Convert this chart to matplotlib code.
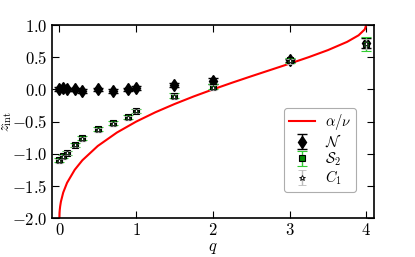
import matplotlib
matplotlib.use("Agg")
import matplotlib.pyplot as plt
from matplotlib.ticker import FixedLocator, FixedFormatter

plt.rcParams['mathtext.fontset'] = 'cm'
plt.rcParams['font.family'] = ['DejaVu Serif']

# alpha/nu curve values
curve_q = [0, 0.002, 0.005, 0.01, 0.02, 0.05, 0.1, 0.2, 0.3, 0.5, 0.75, 1.0, 1.25,
           1.5, 1.75, 2.0, 2.25, 2.5, 2.75, 3.0, 3.25, 3.5, 3.75, 3.9, 3.98, 4.0]
curve_v = [-2.0, -1.916, -1.868, -1.815, -1.741, -1.600, -1.449, -1.247, -1.099,
           -0.878, -0.669, -0.5, -0.355, -0.227, -0.109, 0.0, 0.104, 0.204, 0.302,
           0.4, 0.501, 0.610, 0.738, 0.840, 0.931, 1.0]

# N (black diamonds)
n_q = [0, 0.05, 0.1, 0.2, 0.3, 0.5, 0.7, 0.9, 1.0, 1.5, 2.0, 3.0, 4.0]
n_v = [0.01, 0.02, 0.0, 0.0, -0.02, 0.0, -0.02, 0.0, 0.02, 0.07, 0.13, 0.45, 0.72]
n_e = [0.03, 0.03, 0.03, 0.03, 0.03, 0.03, 0.03, 0.03, 0.03, 0.03, 0.05, 0.03, 0.08]

# S2 (green squares)
s_q = [0, 0.05, 0.1, 0.2, 0.3, 0.5, 0.7, 0.9, 1.0, 1.5, 2.0, 3.0, 4.0]
s_v = [-1.10, -1.04, -0.98, -0.86, -0.76, -0.62, -0.52, -0.43, -0.33, -0.10, 0.04, 0.45, 0.71]
s_e = [0.03, 0.03, 0.03, 0.03, 0.03, 0.03, 0.03, 0.03, 0.03, 0.04, 0.04, 0.04, 0.11]

# C1 (stars)
c_q = [0, 0.05, 0.1, 0.2, 0.3, 0.5, 0.7, 0.9, 1.0, 1.5, 2.0, 3.0, 4.0]
c_v = [-1.11, -1.05, -0.99, -0.87, -0.77, -0.63, -0.53, -0.44, -0.34, -0.11, 0.03, 0.44, 0.70]
c_e = [0.03, 0.03, 0.03, 0.03, 0.03, 0.03, 0.03, 0.03, 0.03, 0.04, 0.04, 0.04, 0.08]

xticks = [0, 1, 2, 3, 4]
xticklabels = ['0', '1', '2', '3', '4']
yticks = [-2.0, -1.5, -1.0, -0.5, 0.0, 0.5, 1.0]
yticklabels = ['-2.0', '-1.5', '-1.0', '-0.5', '0.0', '0.5', '1.0']

fig = plt.figure(figsize=(4.15, 2.57), dpi=100)
ax = fig.add_axes([0.1246, 0.1506, 0.7764, 0.7521])

ax.plot(curve_q, curve_v, color='red', lw=1.5, label=r'$\alpha/\nu$', zorder=2)
ax.errorbar(n_q, n_v, yerr=n_e, fmt='d', color='black', mec='black', ms=6.5,
            ecolor='black', capsize=3.5, elinewidth=1, label=r'$\mathcal{N}$', zorder=3)
ax.errorbar(s_q, s_v, yerr=s_e, fmt='s', color='#008800', mec='black', mew=0.8, ms=5,
            ecolor='#33cc33', capsize=3.5, elinewidth=1, label=r'$\mathcal{S}_2$', zorder=4)
ax.errorbar(c_q, c_v, yerr=c_e, fmt='*', color='black', mfc='white', mec='black', mew=0.6,
            ms=4, ecolor='#bbbbbb', capsize=3, elinewidth=1, label=r'$C_1$', zorder=5)

ax.set_xlim(-0.1, 4.1)
ax.set_ylim(-2.0, 1.0)
ax.xaxis.set_major_locator(FixedLocator(xticks))
ax.xaxis.set_major_formatter(FixedFormatter(['$%s$' % t for t in xticklabels]))
ax.yaxis.set_major_locator(FixedLocator(yticks))
ax.yaxis.set_major_formatter(FixedFormatter(['$%s$' % t for t in yticklabels]))
ax.tick_params(direction='in', top=True, right=True, length=5, width=0.8,
               labelsize=12, pad=3)
for sp in ax.spines.values():
    sp.set_linewidth(1.2)

ax.set_xlabel(r'$q$', fontsize=12, labelpad=0)
ax.set_ylabel(r'$z_{\rm int}$', fontsize=10.5)
ax.yaxis.set_label_coords(-0.118, 0.5)

leg = ax.legend(loc='lower right', bbox_to_anchor=(0.944, 0.138), borderaxespad=0,
                fontsize=10.5, frameon=True, fancybox=True, handlelength=1.8,
                labelspacing=0.05, borderpad=0.3, handletextpad=0.7)
leg.get_frame().set_edgecolor('#999999')
leg.get_frame().set_linewidth(0.8)

fig.savefig('out.png', dpi=100)
